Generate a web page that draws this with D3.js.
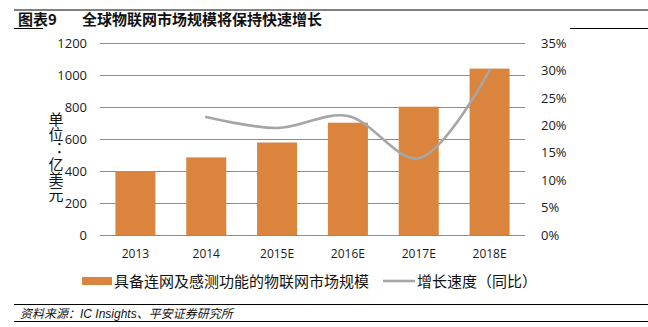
<!DOCTYPE html>
<html>
<head>
<meta charset="utf-8">
<script src="https://cdn.jsdelivr.net/npm/d3@7/dist/d3.min.js"></script>
<style>
  html, body { margin: 0; padding: 0; background: #fff; }
  svg { display: block; }
</style>
</head>
<body>
<svg id="chart" width="648" height="327"></svg>
<script>
// Data
const categories = ["2013", "2014", "2015E", "2016E", "2017E", "2018E"];
const marketSize = [400, 485, 578, 702, 802, 1040];          // 亿美元
const growthRate = [null, 0.215, 0.195, 0.217, 0.140, 0.300]; // 同比
const leftTicks = [0, 200, 400, 600, 800, 1000, 1200];
const rightTicks = [0, 0.05, 0.10, 0.15, 0.20, 0.25, 0.30, 0.35];
const titleNo = "图表9";
const titleText = "全球物联网市场规模将保持快速增长";
const unitChars = "单位：亿美元";
const barLegend = "具备连网及感测功能的物联网市场规模";
const lineLegend = "增长速度（同比）";
const sourceText = "资料来源：IC Insights、平安证券研究所";

const svg = d3.select("#chart");
const cjk = "'Noto Sans CJK SC', 'Noto Sans', sans-serif";
const num = "'Open Sans', 'Noto Sans', sans-serif";
const barColor = "#DA843E";
const lineColor = "#A6A6A6";

const plot = { left: 100, right: 525, top: 43, bottom: 235 };

const x = d3.scaleBand().domain(categories)
  .range([plot.left, plot.right]).paddingInner(0.435).paddingOuter(0.2175);
const y = d3.scaleLinear().domain([0, 1200]).range([plot.bottom, plot.top]);
const y2 = d3.scaleLinear().domain([0, 0.35]).range([plot.bottom, plot.top]);

// Header rules and title
svg.append("line").attr("x1", 14).attr("x2", 648).attr("y1", 10).attr("y2", 10)
  .attr("stroke", "#000").attr("stroke-width", 1);
svg.append("line").attr("x1", 14).attr("x2", 43).attr("y1", 28.5).attr("y2", 28.5)
  .attr("stroke", "#000").attr("stroke-width", 1);
svg.append("line").attr("x1", 570).attr("x2", 648).attr("y1", 28.5).attr("y2", 28.5)
  .attr("stroke", "#000").attr("stroke-width", 1);
svg.append("text").attr("x", 18).attr("y", 25)
  .attr("font-family", cjk).attr("font-size", 15).attr("font-weight", "bold")
  .attr("fill", "#111").text(titleNo);
svg.append("text").attr("x", 82).attr("y", 25)
  .attr("font-family", cjk).attr("font-size", 15).attr("font-weight", "bold")
  .attr("fill", "#111").text(titleText);

// Gridlines + left axis labels
const gLeft = svg.append("g").attr("transform", `translate(${plot.left},0)`)
  .call(d3.axisLeft(y).tickValues(leftTicks).tickSize(-(plot.right - plot.left))
    .tickPadding(13).tickFormat(d3.format("d")));
gLeft.select(".domain").remove();
gLeft.selectAll(".tick line").attr("stroke", "#8c8c8c").attr("stroke-width", 1);
gLeft.selectAll(".tick text").attr("font-family", num).attr("font-size", 13)
  .attr("fill", "#1a1a1a");

// Right axis labels
const gRight = svg.append("g").attr("transform", `translate(${plot.right},0)`)
  .call(d3.axisRight(y2).tickValues(rightTicks).tickSize(0)
    .tickPadding(16).tickFormat(d3.format(".0%")));
gRight.select(".domain").remove();
gRight.selectAll(".tick text").attr("font-family", num).attr("font-size", 13)
  .attr("fill", "#1a1a1a");

// Bars
svg.append("g").selectAll("rect").data(marketSize).join("rect")
  .attr("x", (d, i) => x(categories[i]))
  .attr("y", d => y(d))
  .attr("width", x.bandwidth())
  .attr("height", d => y(0) - y(d))
  .attr("fill", barColor);

// Growth line (smoothed)
const pts = growthRate.map((g, i) => ({ c: categories[i], g }))
  .filter(p => p.g !== null);
const line = d3.line()
  .x(p => x(p.c) + x.bandwidth() / 2)
  .y(p => y2(p.g))
  .curve(d3.curveCatmullRom.alpha(0.5));
svg.append("path").datum(pts).attr("d", line)
  .attr("fill", "none").attr("stroke", lineColor).attr("stroke-width", 2.6)
  .attr("stroke-linecap", "round");

// Category labels
const gX = svg.append("g").attr("transform", `translate(0,${plot.bottom})`)
  .call(d3.axisBottom(x).tickSize(0).tickPadding(14));
gX.select(".domain").remove();
gX.selectAll(".tick text").attr("font-family", num).attr("font-size", 12)
  .attr("fill", "#1a1a1a");

// Unit label (vertical)
svg.append("text").attr("x", 56).attr("y", 112)
  .attr("font-family", cjk).attr("font-size", 15)
  .attr("fill", "#111")
  .style("writing-mode", "vertical-rl")
  .style("text-orientation", "upright")
  .text(unitChars);

// Legend
svg.append("rect").attr("x", 82).attr("y", 277).attr("width", 30).attr("height", 8)
  .attr("fill", barColor);
svg.append("text").attr("x", 114).attr("y", 286.5)
  .attr("font-family", cjk).attr("font-size", 15).attr("fill", "#111")
  .text(barLegend);
svg.append("line").attr("x1", 383).attr("x2", 415).attr("y1", 281).attr("y2", 281)
  .attr("stroke", lineColor).attr("stroke-width", 2.6);
svg.append("text").attr("x", 417).attr("y", 286.5)
  .attr("font-family", cjk).attr("font-size", 15).attr("fill", "#111")
  .text(lineLegend);

// Footer
svg.append("line").attr("x1", 14).attr("x2", 648).attr("y1", 304.5).attr("y2", 304.5)
  .attr("stroke", "#000").attr("stroke-width", 1);
svg.append("line").attr("x1", 14).attr("x2", 648).attr("y1", 321.5).attr("y2", 321.5)
  .attr("stroke", "#000").attr("stroke-width", 1);
svg.append("text").attr("x", 20).attr("y", 317.5)
  .attr("font-family", "'Liberation Sans', 'Noto Sans CJK SC', sans-serif")
  .attr("font-size", 12).attr("font-style", "italic").attr("fill", "#111")
  .text(sourceText);
</script>
</body>
</html>
